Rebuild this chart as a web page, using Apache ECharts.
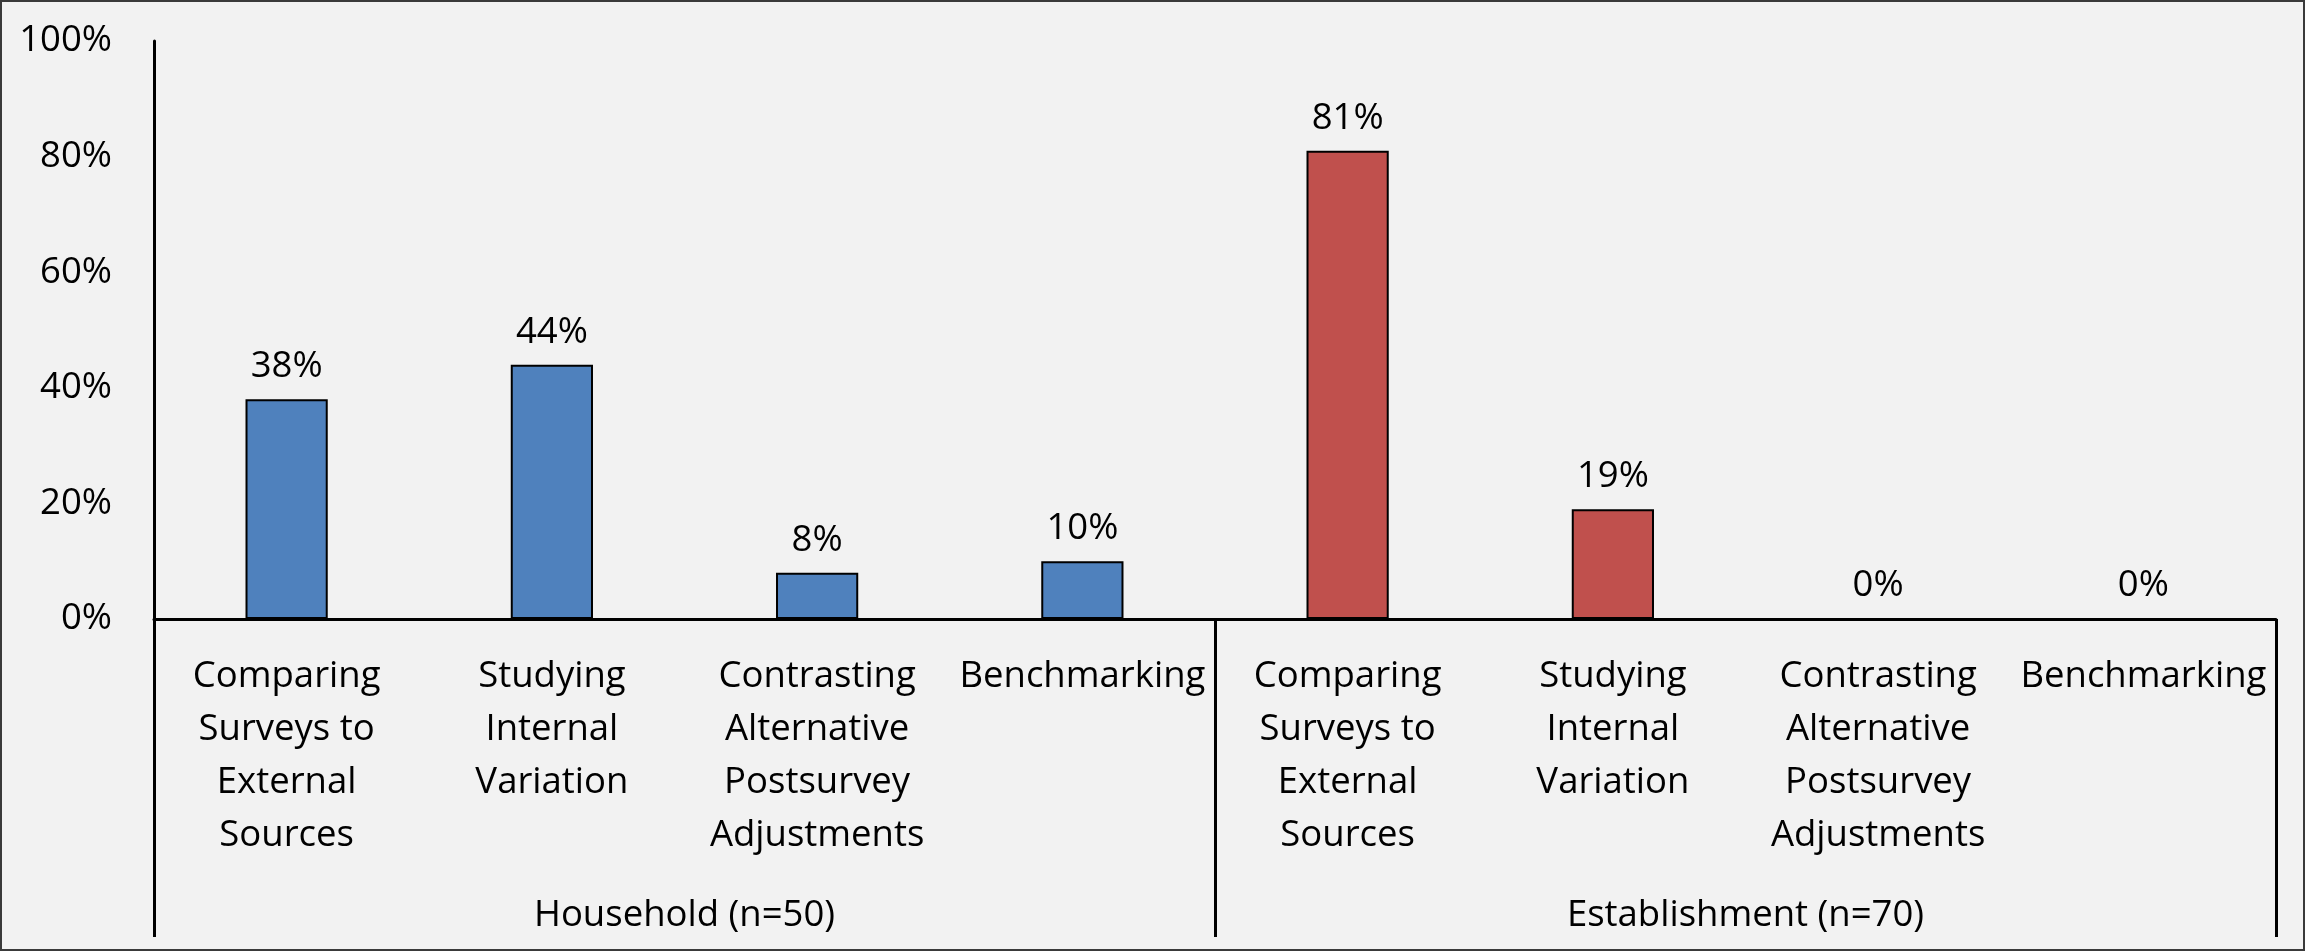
<!DOCTYPE html>
<html>
<head>
<meta charset="utf-8">
<script src="https://cdn.jsdelivr.net/npm/echarts@6/dist/echarts.min.js"></script>
<style>
  html, body { margin: 0; padding: 0; background: #f2f2f2; }
  #chart { width: 2305px; height: 951px; }
</style>
</head>
<body>
<div id="chart"></div>
<script>
// Survey evaluation methods, share of surveys using each (percent)
const methods = [
  'Comparing\nSurveys to\nExternal\nSources',
  'Studying\nInternal\nVariation',
  'Contrasting\nAlternative\nPostsurvey\nAdjustments',
  'Benchmarking'
];
const groups = ['Household (n=50)', 'Establishment (n=70)'];
const householdValues = [38, 44, 8, 10];
const establishmentValues = [81, 19, 0, 0];
const yTicks = [0, 20, 40, 60, 80, 100];

const categories = methods.concat(methods);
const householdSeries = householdValues.concat(methods.map(() => null));
const establishmentSeries = methods.map(() => null).concat(establishmentValues);

const FONT = 'Open Sans';
const FS = 36.5;

const chart = echarts.init(document.getElementById('chart'), null, { renderer: 'canvas' });

const barLabel = {
  show: true,
  position: 'top',
  distance: 14,
  formatter: p => p.value + '%',
  fontFamily: FONT,
  fontSize: FS,
  color: '#000'
};

chart.setOption({
  backgroundColor: '#f2f2f2',
  animation: false,
  textStyle: { fontFamily: FONT },
  graphic: [{
    type: 'rect',
    shape: { x: 1, y: 1, width: 2303, height: 949 },
    style: { fill: 'none', stroke: '#3a3a3a', lineWidth: 2 },
    silent: true
  }],
  grid: { left: 154, right: 29, top: 41, bottom: 332, containLabel: false },
  xAxis: [
    {
      type: 'category',
      data: categories,
      axisLine: { show: true, lineStyle: { color: '#000', width: 3 } },
      axisTick: { show: false },
      axisLabel: {
        interval: 0,
        margin: 31,
        fontFamily: FONT,
        fontSize: FS,
        lineHeight: 53,
        color: '#000',
        align: 'center'
      }
    },
    {
      type: 'category',
      data: groups,
      position: 'bottom',
      axisLine: { show: false },
      axisTick: {
        show: true,
        length: 318,
        lineStyle: { color: '#000', width: 3 }
      },
      axisLabel: {
        interval: 0,
        margin: 278,
        fontFamily: FONT,
        fontSize: FS,
        color: '#000'
      }
    }
  ],
  yAxis: {
    type: 'value',
    min: yTicks[0],
    max: yTicks[yTicks.length - 1],
    interval: yTicks[1] - yTicks[0],
    axisLine: { show: true, lineStyle: { color: '#000', width: 3 } },
    axisTick: { show: false },
    splitLine: { show: false },
    axisLabel: {
      margin: 42,
      fontFamily: FONT,
      fontSize: FS,
      color: '#000',
      formatter: v => v + '%'
    }
  },
  series: [
    {
      name: groups[0],
      type: 'bar',
      data: householdSeries,
      barWidth: '31%',
      barGap: '-100%',
      itemStyle: { color: '#4f81bd', borderColor: '#000', borderWidth: 2 },
      label: barLabel
    },
    {
      name: groups[1],
      type: 'bar',
      data: establishmentSeries,
      barWidth: '31%',
      barGap: '-100%',
      itemStyle: { color: '#c0504d', borderColor: '#000', borderWidth: 2 },
      label: barLabel
    }
  ]
});
</script>
</body>
</html>
